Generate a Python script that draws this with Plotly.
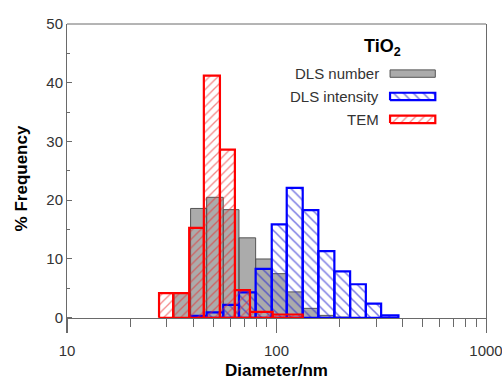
import plotly.graph_objects as go

# ---------------- data ----------------
# DLS bins (shared by number and intensity distributions), diameter edges in nm
dls_edges = [32.4, 38.9, 46.4, 55.7, 66.2, 79.5, 94.9, 111.9, 133.4, 158.4,
             188.9, 224.6, 267.0, 315.8, 382.0]
dls_number = [4.2, 18.6, 20.5, 18.4, 13.6, 10.0, 7.5, 4.4, 1.6, 0.4, 0.1, 0, 0, 0]
dls_intensity = [0, 0.3, 0.9, 2.2, 4.3, 8.3, 15.9, 22.1, 18.3, 11.35, 7.9, 5.7, 2.4, 0.4]

# TEM bins
tem_edges = [27.5, 32.1, 38.3, 45.0, 53.7, 63.3, 74.7, 95.9, 133.4]
tem_values = [4.2, 4.2, 15.3, 41.2, 28.6, 4.7, 1.0, 0.55]

series_names = ["DLS number", "DLS intensity", "TEM"]
x_tickvals = [10, 100, 1000]
y_tickvals = [0, 10, 20, 30, 40, 50]

FONT = "Liberation Sans, Arial, sans-serif"
TXT = "#333333"
AX = "#6a6a6a"
X_RANGE = [1, 3]
Y_RANGE = [-2.6, 50]


def bars(edges, values):
    xs, ys = [], []
    for i, v in enumerate(values):
        if v <= 0:
            continue
        l, r = edges[i], edges[i + 1]
        xs += [l, l, r, r, l, None]
        ys += [0, v, v, 0, 0, None]
    return xs, ys


styles = {
    "DLS number": dict(line=dict(color="#555555", width=1), fillcolor="#ababab"),
    "DLS intensity": dict(line=dict(color="#0000ff", width=2.2), fillcolor="rgba(0,0,0,0)",
                          fillpattern=dict(shape="\\", fgcolor="rgb(40,40,210)", fgopacity=0.62,
                                           bgcolor="rgba(0,0,0,0)", size=7, solidity=0.22)),
    "TEM": dict(line=dict(color="#ff0000", width=2.2), fillcolor="rgba(0,0,0,0)",
                fillpattern=dict(shape="/", fgcolor="rgb(235,40,40)", fgopacity=0.55,
                                 bgcolor="rgba(0,0,0,0)", size=6, solidity=0.22)),
}

fig = go.Figure()
# each series on its own (identically scaled) overlaid subplot so the hatching
# of later series is painted over the grey bars
for name, edges, vals, xa, ya in [("DLS number", dls_edges, dls_number, "x", "y"),
                                  ("DLS intensity", dls_edges, dls_intensity, "x3", "y3"),
                                  ("TEM", tem_edges, tem_values, "x4", "y4")]:
    xs, ys = bars(edges, vals)
    fig.add_trace(go.Scatter(x=xs, y=ys, mode="lines", fill="toself", name=name,
                             xaxis=xa, yaxis=ya,
                             showlegend=False, hoverinfo="skip", **styles[name]))

# ---------------- manual legend (swatch to the right of the text) ----------------
leg_x0, leg_x1 = 0.771, 0.879
leg_rows = [0.8395, 0.7655, 0.6915]
leg_h = 0.024
for name, yc in zip(series_names, leg_rows):
    st = styles[name]
    fig.add_trace(go.Scatter(
        x=[leg_x0, leg_x0, leg_x1, leg_x1, leg_x0],
        y=[yc - leg_h / 2, yc + leg_h / 2, yc + leg_h / 2, yc - leg_h / 2, yc - leg_h / 2],
        mode="lines", fill="toself", xaxis="x2", yaxis="y2", showlegend=False,
        hoverinfo="skip", **st))
    fig.add_annotation(x=0.749, y=yc, xref="paper", yref="paper", text=name,
                       showarrow=False, xanchor="right", yanchor="middle",
                       font=dict(family=FONT, size=15, color=TXT))

fig.add_annotation(x=0.752, y=0.925, xref="paper", yref="paper",
                   text="<b>TiO<sub>2</sub></b>", showarrow=False,
                   xanchor="center", yanchor="middle",
                   font=dict(family=FONT, size=18, color="#000000"))

# top frame line
fig.add_shape(type="line", xref="paper", yref="paper", x0=0, x1=1, y0=1, y1=1,
              line=dict(color=AX, width=1))

hidden_log_x = dict(overlaying="x", type="log", range=X_RANGE, visible=False,
                    fixedrange=True, automargin=False)
hidden_y = dict(overlaying="y", range=Y_RANGE, visible=False, fixedrange=True,
                automargin=False)

fig.update_layout(
    width=502, height=380,
    margin=dict(l=67, r=16, t=24, b=47, autoexpand=False),
    paper_bgcolor="white", plot_bgcolor="white",
    font=dict(family=FONT, size=15, color=TXT),
    xaxis=dict(type="log", range=X_RANGE, anchor="free", position=2.6 / 52.6,
               automargin=False,
               showline=True, linecolor=AX, linewidth=1, showgrid=False, zeroline=False,
               ticks="outside", ticklen=14, tickcolor=AX, tickwidth=1,
               tickmode="array", tickvals=x_tickvals, ticktext=[str(v) for v in x_tickvals],
               tickfont=dict(size=15, color=TXT), ticklabeloverflow="allow",
               ticklabelstandoff=5,
               minor=dict(ticks="outside", ticklen=8, tickcolor=AX, tickwidth=1,
                          tickmode="array",
                          tickvals=[20, 30, 40, 50, 60, 70, 80, 90,
                                    200, 300, 400, 500, 600, 700, 800, 900],
                          showgrid=False),
               title=dict(text="<b>Diameter/nm</b>", font=dict(size=17, color="#000000"),
                          standoff=9)),
    yaxis=dict(range=Y_RANGE, showline=True, mirror=True, linecolor=AX, linewidth=1,
               automargin=False,
               showgrid=False, zeroline=False,
               ticks="inside", ticklen=5, tickcolor=AX, tickwidth=1,
               tickmode="array", tickvals=y_tickvals, tickfont=dict(size=15, color=TXT),
               minor=dict(ticks="inside", ticklen=3, tickcolor=AX, dtick=5, tick0=0,
                          showgrid=False),
               title=dict(text="<b>% Frequency</b>", font=dict(size=17, color="#000000"),
                          standoff=14)),
    xaxis2=dict(overlaying="x", range=[0, 1], visible=False, fixedrange=True),
    yaxis2=dict(overlaying="y", range=[0, 1], visible=False, fixedrange=True),
    xaxis3=hidden_log_x, yaxis3=hidden_y,
    xaxis4=hidden_log_x, yaxis4=hidden_y,
)

fig.write_html("out.html")
